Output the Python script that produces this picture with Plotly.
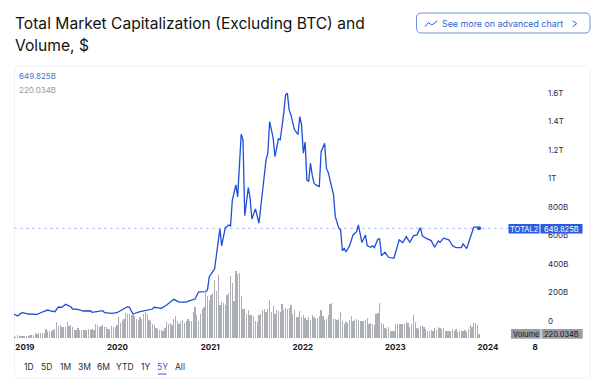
import pandas as pd
import plotly.graph_objects as go

# ---------- data ----------
START = "2018-11-19"
line_weeks = [0,2,4,5,8,13,15,17,19,21,23,25,27,29,32,33,36,39,43,44,50,51,55,58,61,64,65,67,71,75,78,79,83,86,90,93,97,99,102,104,108,109,110,113,116,117,119,121,122,123,125,126,128,129,130,132,133,134,136,138,140,142,143,144,146,147,149,150,152,153,154,155,156,158,160,161,162,163,164,165,166,167,168,169,170,172,173,175,176,177,180,181,183,184,185,186,187,189,191,193,194,196,198,199,201,202,203,205,206,207,209,211,214,216,217,219,221,223,225,227,229,230,232,235,237,239,240,242,245,247,249,252,253,255,257,259,261,262]
line_values = [49,35,55,58,49,47,58,65,77,70,65,98,96,117,100,84,82,70,72,61,72,58,54,58,77,100,96,49,65,77,84,96,89,112,152,133,133,143,154,204,206,218,311,365,646,527,653,674,667,849,955,870,1311,1271,739,936,863,716,786,686,908,1130,1177,1399,1285,1153,1278,1271,1460,1587,1598,1481,1446,1343,1308,1434,1376,1177,1255,990,978,1107,1025,967,955,943,1188,1247,1072,1044,885,732,651,639,491,512,484,527,604,627,674,550,604,527,517,527,515,574,576,458,482,447,440,534,569,550,592,552,597,604,655,597,581,564,517,562,552,581,569,529,515,515,541,508,592,658,658,649.825]
volume_units = [5,4,8,6,7,7,7,7,7,8,8,9,14,13,14,15,15,16,28,22,20,22,24,28,47,36,40,33,32,32,47,37,38,33,23,24,29,25,25,25,24,25,27,23,26,24,41,40,34,36,38,32,34,26,26,36,34,34,40,62,44,50,58,74,72,71,70,68,
67,58,55,62,58,72,78,72,55,50,42,38,30,28,23,25,22,30,48,42,46,40,58,66,50,42,52,54,44,52,56,52,50,78,92,68,50,72,88,94,145,125,115,128,135,175,140,190,100,107,106,100,130,135,185,165,112,200,193,195,125,87,88,72,84,70,70,
65,50,48,68,73,83,86,78,88,113,78,95,73,83,80,78,103,83,91,88,91,98,73,85,63,63,80,63,68,61,55,63,53,68,63,57,61,65,83,66,55,58,68,101,105,58,57,55,58,77,50,43,48,46,53,65,50,55,56,53,52,52,52,53,61,41,44,43,
38,71,75,106,46,41,30,26,32,21,21,20,41,41,41,41,41,41,48,45,33,43,68,48,30,26,35,35,33,28,21,21,23,20,31,23,33,29,26,29,21,22,20,21,28,21,26,19,22,20,20,23,18,28,40,33,45,46,39,12]
VOLUME_UNIT_B = 18.3

y_ticks = [0,200,400,600,800,1000,1200,1400,1600]
y_tick_labels = ["0","200B","400B","600B","800B","1T","1.2T","1.4T","1.6T"]
x_ticks = ["2019-01-01","2020-01-01","2021-01-01","2022-01-01","2023-01-01","2024-01-01","2024-07-05"]
x_tick_labels = ["2019","2020","2021","2022","2023","2024","8"]
range_labels = ["1D","5D","1M","3M","6M","YTD","1Y","5Y","All"]
LAST_PRICE = 649.825

# ---------- layout constants ----------
W, H = 600, 386
L, R, T, B = 14, 545, 67, 338
FONT = "Inter"
DARK = "#131722"
BLUE = "#2f5fd8"
LINE = "#1f4fd8"
GRAY = "#9a9ca4"

def px(x): return (x - L) / (R - L)
def py(y): return (B - y) / (B - T)

base = pd.Timestamp(START)
line_dates = [base + pd.Timedelta(days=7 * i) for i in line_weeks]
bar_dates = [base + pd.Timedelta(days=7 * i) for i in range(len(volume_units))]
volume_b = [v * VOLUME_UNIT_B for v in volume_units]

fig = go.Figure()
fig.add_bar(x=bar_dates, y=volume_b, yaxis="y2", width=[5.0 * 86400000] * len(bar_dates),
            marker=dict(color="#adafb7", line=dict(width=0)), showlegend=False, hoverinfo="skip")
fig.add_scatter(x=line_dates, y=line_values, mode="lines", yaxis="y",
                line=dict(color=LINE, width=1.3), showlegend=False, hoverinfo="skip")
fig.add_scatter(x=line_dates[-1:], y=line_values[-1:], mode="markers", yaxis="y",
                marker=dict(color=LINE, size=4), showlegend=False, hoverinfo="skip")

def rect_path(x0, y0, x1, y1, r):
    a, b, c, d = px(x0), py(y0), px(x1), py(y1)
    rx = r / (R - L); ry = r / (B - T)
    return (f"M{a+rx},{b} L{c-rx},{b} Q{c},{b} {c},{b-ry} L{c},{d+ry} Q{c},{d} {c-rx},{d} "
            f"L{a+rx},{d} Q{a},{d} {a},{d+ry} L{a},{b-ry} Q{a},{b} {a+rx},{b} Z")

def poly(points):
    return "M" + " L".join(f"{px(x)},{py(y)}" for x, y in points)

shapes = [
    dict(type="path", path=rect_path(14.5, 66, 590, 378, 5), xref="paper", yref="paper",
         line=dict(color="#eef0f4", width=1), layer="below"),
    dict(type="path", path=rect_path(416.5, 13, 590, 33, 5), xref="paper", yref="paper",
         line=dict(color="#6f8fe0", width=1)),
    dict(type="path", path=poly([(425, 26.7), (428.3, 22.7), (431.7, 25), (437.3, 21)]), xref="paper", yref="paper",
         line=dict(color=BLUE, width=1)),
    dict(type="path", path=poly([(572.7, 20.7), (576.7, 23.7), (572.7, 26.7)]), xref="paper", yref="paper",
         line=dict(color=BLUE, width=1)),
    dict(type="line", xref="paper", yref="y", x0=0, x1=px(508), y0=LAST_PRICE, y1=LAST_PRICE,
         line=dict(color="#9db2ee", width=0.8, dash="dot"), layer="below"),
    dict(type="rect", xref="paper", yref="paper", x0=px(508.5), x1=px(539.5), y0=py(224), y1=py(233.5),
         fillcolor="#2b5be0", line_width=0),
    dict(type="rect", xref="paper", yref="paper", x0=px(540.5), x1=px(582.5), y0=py(224), y1=py(233.5),
         fillcolor="#2b5be0", line_width=0),
    dict(type="rect", xref="paper", yref="paper", x0=px(511), x1=px(540.5), y0=py(329), y1=py(338.7),
         fillcolor=GRAY, line_width=0),
    dict(type="rect", xref="paper", yref="paper", x0=px(541.5), x1=px(582.7), y0=py(329), y1=py(338.7),
         fillcolor=GRAY, line_width=0),
    dict(type="line", xref="paper", yref="paper", x0=px(158), x1=px(166.5), y0=py(374), y1=py(374),
         line=dict(color=BLUE, width=1)),
]

def text(x, y, s, size, color=DARK, anchor="left", bold=False):
    return dict(xref="paper", yref="paper", x=px(x), y=py(y), text=f"<b>{s}</b>" if bold else s,
                showarrow=False, xanchor=anchor, yanchor="middle", align=anchor,
                font=dict(family=FONT, size=size, color=color), xshift=0, yshift=0,
                borderpad=0, borderwidth=0)

annos = [
    text(15, 24, "Total Market Capitalization (Excluding BTC) and", 15.6, "#111111"),
    text(15, 45, "Volume, $", 15.6, "#111111"),
    text(442, 23.5, "See more on advanced chart", 8.9, BLUE),
    text(19, 76, "649.825B", 8, "#4f72cc"),
    text(19, 90, "220.034B", 8, "#9a9a9a"),
    text(524, 229, "TOTAL2", 7.5, "white", "center"),
    text(561.5, 229, "649.825B", 7.5, "white", "center"),
    text(525.7, 334, "Volume", 7.5, DARK, "center"),
    text(562, 334, "220.034B", 7.5, DARK, "center"),
]
centers = [28.7, 46.3, 65, 84, 103, 125, 145, 162, 179.5]
for c, lab in zip(centers, range_labels):
    annos.append(text(c, 367, lab, 8.5, BLUE if lab == "5Y" else "#2a2e39", "center"))

fig.update_layout(
    width=W, height=H, margin=dict(l=L, r=W - R, t=T, b=H - B, autoexpand=False),
    paper_bgcolor="white", plot_bgcolor="rgba(0,0,0,0)", bargap=0, showlegend=False,
    font=dict(family=FONT, size=8, color=DARK),
    xaxis=dict(type="date", range=["2018-11-19", "2024-08-13"], tickmode="array", tickvals=x_ticks,
               ticktext=[f"<b>{t}</b>" for t in x_tick_labels], showgrid=False, zeroline=False,
               showline=False, ticks="", ticklabelstandoff=3, tickangle=0, tickfont=dict(size=8, color=DARK)),
    yaxis=dict(range=[-119.3, 1782], side="right", tickmode="array", tickvals=y_ticks, ticktext=y_tick_labels,
               showgrid=False, zeroline=False, showline=False, ticks="", ticklabelstandoff=2,
               tickfont=dict(size=8, color="#2a2e39")),
    yaxis2=dict(range=[0, 271 * 3 * VOLUME_UNIT_B], overlaying="y", side="left", visible=False, fixedrange=True),
    shapes=shapes, annotations=annos,
)
fig.write_html("out.html", config={"displayModeBar": False, "staticPlot": True},
               post_script="document.body.style.margin='0';")
